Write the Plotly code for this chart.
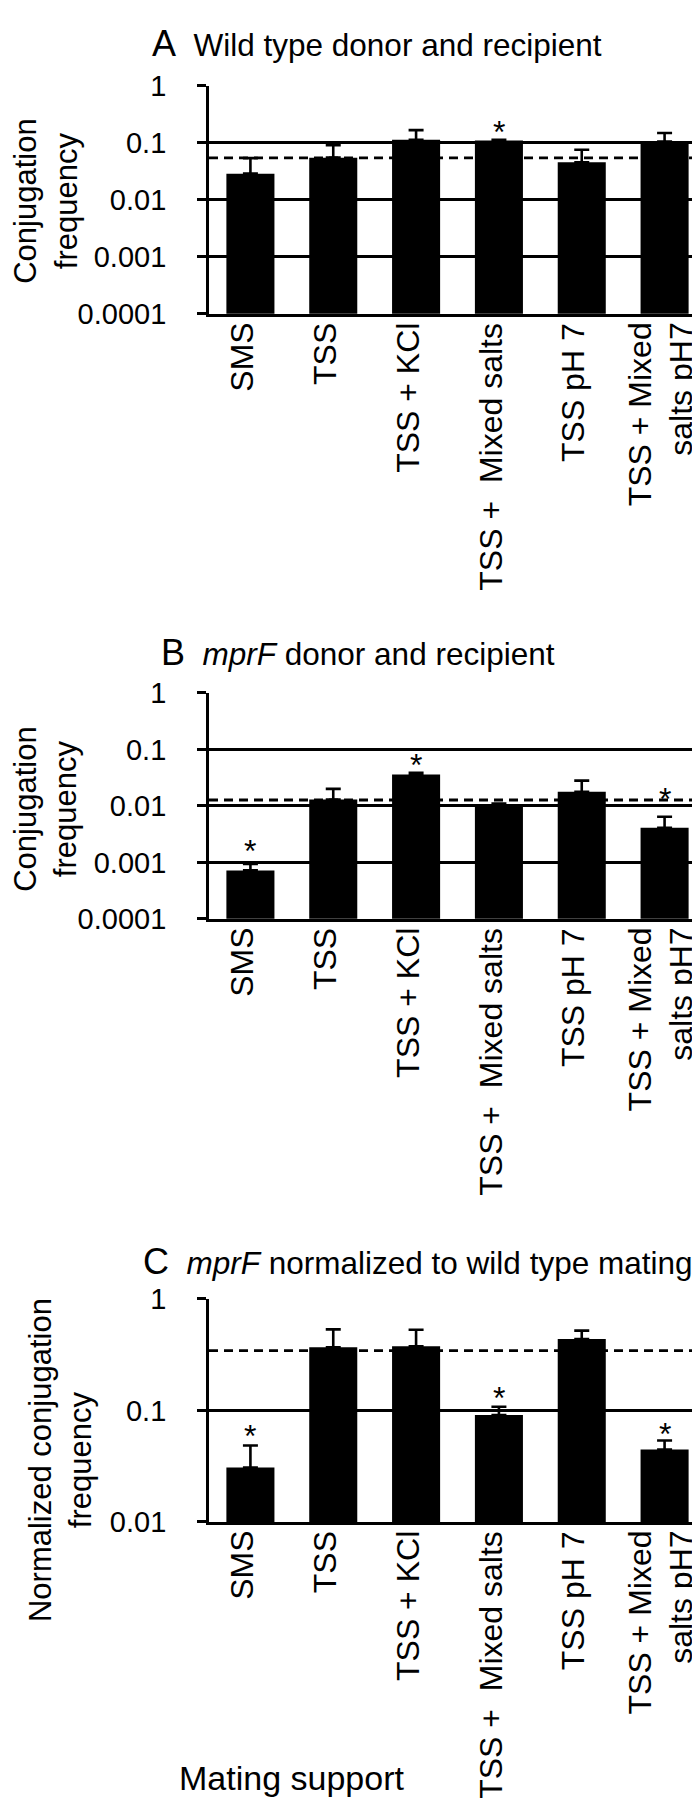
import plotly.graph_objects as go
from plotly.subplots import make_subplots
import math

# categories (mating supports)
categories = ["SMS", "TSS", "TSS + KCl", "TSS +\u00a0 Mixed salts", "TSS pH 7", "TSS + Mixed<br>salts pH7"]

# A: wild type donor and recipient
wt_freq = [0.0288, 0.055, 0.113, 0.110, 0.0457, 0.105]
wt_err_top = [0.054, 0.091, 0.167, 0.113, 0.0757, 0.149]
wt_ref = 0.0545
wt_star = [False, False, False, True, False, False]

# B: mprF donor and recipient
mprf_freq = [0.00072, 0.0129, 0.036, 0.0108, 0.0178, 0.0041]
mprf_err_top = [0.00094, 0.020, 0.0385, 0.011, 0.028, 0.0064]
mprf_ref = 0.0127
mprf_star = [True, False, True, False, False, True]

# C: mprF normalized to wild type mating
norm_freq = [0.0307, 0.368, 0.377, 0.091, 0.437, 0.0447]
norm_err_top = [0.0485, 0.534, 0.53, 0.108, 0.52, 0.0537]
norm_ref = 0.344
norm_star = [True, False, False, True, False, True]

W, H = 700, 1803
L, R = 201, 2
PW = W - L - R

def py(px):
    return 1 - px / H

def pxx(px):
    return (px - L) / PW

FONT = "Liberation Sans, Arial, sans-serif"
LW = 2.8
NB = "\u00a0"

fig = make_subplots(rows=3, cols=1)

# (values, error tops, dashed ref, stars, star shifts, log range, pixel top/bottom)
panels = [
    (wt_freq, wt_err_top, wt_ref, wt_star, [8] * 6, [-4, 0], (63, 295)),
    (mprf_freq, mprf_err_top, mprf_ref, mprf_star, [13, 8, 8, 8, 8, 18], [-4, 0], (681, 911)),
    (norm_freq, norm_err_top, norm_ref, norm_star, [9, 8, 8, 9, 8, 7], [-2, 0], (1298, 1525)),
]

for i, (vals, tops, ref, stars, shifts, yr, (ytop, ybot)) in enumerate(panels):
    row = i + 1
    errs = [t - v for t, v in zip(tops, vals)]
    fig.add_trace(go.Bar(
        x=categories, y=vals, marker_color="black", marker_line_width=0,
        error_y=dict(type="data", array=errs, arrayminus=[0] * len(vals), symmetric=False,
                     color="black", thickness=2.6, width=7.5),
        showlegend=False), row=row, col=1)
    xname = "x" if row == 1 else "x%d" % row
    yname = "y" if row == 1 else "y%d" % row
    fig.add_shape(type="line", xref=xname + " domain", yref=yname, x0=0, x1=1, y0=ref, y1=ref,
                  line=dict(color="black", width=LW, dash="9px,6px"))
    for c, s, t, sh in zip(categories, stars, tops, shifts):
        if s:
            fig.add_annotation(x=c, y=math.log10(t), xref=xname, yref=yname, text="*",
                               showarrow=False, yanchor="middle", yshift=sh,
                               font=dict(family=FONT, size=32, color="black"))
    # category labels, rotated, hanging below the axis
    for c in categories:
        fig.add_annotation(x=c, y=py(ybot), xref=xname, yref="paper", text=c,
                           showarrow=False, textangle=-90, xanchor="center", yanchor="top",
                           align="right", yshift=-7, xshift=-4 if "<br>" in c else -8,
                           font=dict(family=FONT, size=32, color="black"))
    exps = list(range(yr[0], yr[1] + 1))
    tv = [10 ** e for e in exps]
    tt = ["1" if e == 0 else "0." + "0" * (-e - 1) + "1" for e in exps]
    fig.update_yaxes(type="log", range=yr, tickvals=tv, ticktext=tt,
                     showgrid=True, gridcolor="black", gridwidth=LW,
                     showline=True, linecolor="black", linewidth=LW,
                     ticks="outside", ticklen=9, tickwidth=LW, tickcolor="black",
                     ticklabelstandoff=25,
                     tickfont=dict(family=FONT, size=29, color="black"),
                     domain=[py(ybot), py(ytop)], row=row, col=1)
    fig.update_xaxes(showline=True, linecolor="black", linewidth=LW, ticks="",
                     showticklabels=False, showgrid=False, row=row, col=1)

# panel titles
titles = [
    (142, 20, "A", "Wild type donor and recipient"),
    (151, 640, "B", "<i>mprF</i> donor and recipient"),
    (133, 1260, "C", "<i>mprF</i> normalized to wild type mating"),
]
for x, y, letter, text in titles:
    fig.add_annotation(xref="paper", yref="paper", x=pxx(x), y=py(y), xanchor="left", yanchor="middle",
                       showarrow=False,
                       text="<span style='font-size:36px'>%s</span>%s %s" % (letter, NB, text),
                       font=dict(family=FONT, size=31.5, color="black"))

# y axis titles
ytitles = [
    (38, 181, "Conjugation<br>frequency"),
    (38, 800, "Conjugation<br>frequency"),
    (52, 1462, "Normalized conjugation<br>frequency"),
]
for x, y, text in ytitles:
    fig.add_annotation(xref="paper", yref="paper", x=pxx(x), y=py(y), xanchor="center", yanchor="middle",
                       showarrow=False, textangle=-90, text=text,
                       font=dict(family=FONT, size=31, color="black"))

fig.add_annotation(xref="paper", yref="paper", x=pxx(283), y=py(1786), xanchor="center", yanchor="middle",
                   showarrow=False, text="Mating support",
                   font=dict(family=FONT, size=34, color="black"))

fig.update_layout(width=W, height=H, margin=dict(l=L, r=R, t=0, b=0),
                  plot_bgcolor="white", paper_bgcolor="white", bargap=0.42)

fig.write_html("out.html")
